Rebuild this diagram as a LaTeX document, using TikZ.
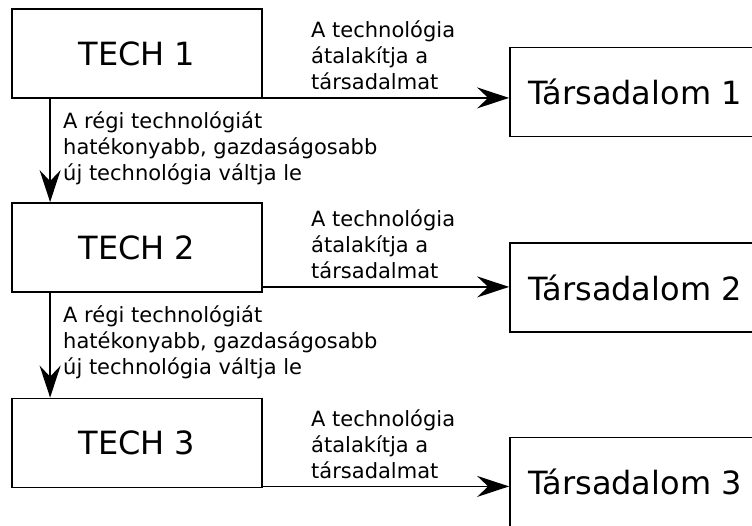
\documentclass[tikz,border=0pt]{standalone}
\usepackage{fontspec}
\setmainfont{DejaVu Sans}
\usetikzlibrary{arrows.meta}
\usetikzlibrary{calc}

\begin{document}
\begin{tikzpicture}[x=1pt,y=-1pt,
        techbox/.style={rectangle,draw,line width=1.8pt,minimum width=250pt,minimum height=89pt,inner sep=0pt,font=\fontsize{32}{38}\selectfont},
        note/.style={align=left,inner sep=0pt,font=\fontsize{21}{26}\selectfont},
        arr/.style={line width=1.8pt,-{Stealth[length=32pt,width=21pt,inset=11pt]}}]
        \useasboundingbox (0,0) rectangle (752,525);

        \node[techbox] (T1) at (137,53.5) {TECH 1};
        \node[techbox] (T2) at (137,247.5) {TECH 2};
        \node[techbox] (T3) at (137,443) {TECH 3};
        \node[techbox] (S1) at (635,92) {Társadalom 1};
        \node[techbox] (S2) at (635,287.5) {Társadalom 2};
        \node[techbox] (S3) at (635,482) {Társadalom 3};

        \node[note,anchor=base west] (A1) at (311,89.3) {A technológia\\átalakítja a\\társadalmat};
        \node[note,anchor=base west] (A2) at (311,278) {A technológia\\átalakítja a\\társadalmat};
        \node[note,anchor=base west] (A3) at (311,478.3) {A technológia\\átalakítja a\\társadalmat};
        \node[note,anchor=base west] (R1) at (63,180) {A régi technológiát\\hatékonyabb, gazdaságosabb\\új technológia váltja le};
        \node[note,anchor=base west] (R2) at (63,374) {A régi technológiát\\hatékonyabb, gazdaságosabb\\új technológia váltja le};

        \coordinate (O1) at ($(T1.south east)+(0,-1)$);
        \coordinate (O2) at ($(T2.south east)+(0,-6)$);
        \coordinate (O3) at ($(T3.south east)+(0,-2)$);
        \coordinate (D1) at ($(T1.south west)+(39,0)$);
        \coordinate (D2) at ($(T2.south west)+(39,0)$);

        \draw[arr] (O1) -- (O1 -| S1.west);
        \draw[arr] (O2) -- (O2 -| S2.west);
        \draw[arr] (O3) -- (O3 -| S3.west);
        \draw[arr] (D1) -- (D1 |- T2.north);
        \draw[arr] (D2) -- (D2 |- T3.north);

    \end{tikzpicture}
\end{document}
